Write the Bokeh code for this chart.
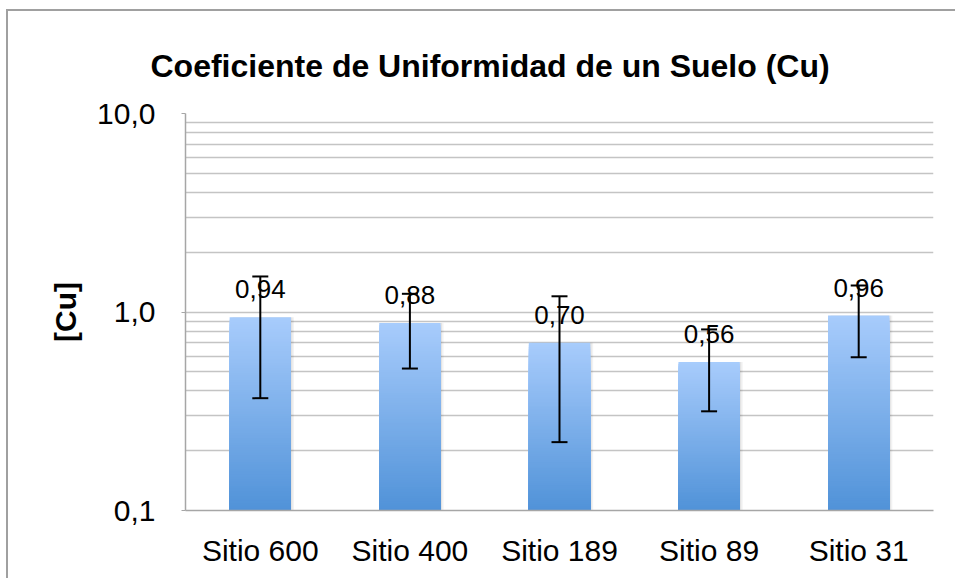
from bokeh.plotting import figure
from bokeh.models import (ColumnDataSource, FixedTicker, CustomJSTickFormatter, Whisker,
                          TeeHead, Range1d, FactorRange, Title)
from bokeh.transform import dodge
from bokeh.embed import file_html
from bokeh.resources import INLINE
from bokeh.core.properties import value

# ---- data ----
sitios = ["Sitio 600", "Sitio 400", "Sitio 189", "Sitio 89", "Sitio 31"]
cu = [0.94, 0.88, 0.70, 0.56, 0.96]
err_upper = [1.51, 1.235, 1.20, 0.817, 1.36]
err_lower = [0.368, 0.519, 0.221, 0.316, 0.592]
value_labels = ["0,94", "0,88", "0,70", "0,56", "0,96"]
y_ticks = [0.1, 1.0, 10.0]
y_tick_labels = ["0,1", "1,0", "10,0"]
y_minor_ticks = [0.2, 0.3, 0.4, 0.5, 0.6, 0.7, 0.8, 0.9, 2, 3, 4, 5, 6, 7, 8, 9]
title_text = "Coeficiente de Uniformidad de un Suelo (Cu)"
y_title = "[Cu]"

FONT = "Liberation Sans"
BASE = y_ticks[0]

p = figure(width=949, height=569, x_range=FactorRange(factors=sitios),
           y_range=Range1d(y_ticks[0], y_ticks[-1]), y_axis_type="log",
           output_backend="svg", toolbar_location=None,
           min_border_left=177, min_border_right=24, min_border_top=102,
           min_border_bottom=70)
p.styles = {"border-left": "2px solid #a0a0a0", "border-top": "2px solid #a0a0a0",
            "margin-left": "6px", "margin-top": "9px"}
p.outline_line_color = None
p.background_fill_color = "white"
p.border_fill_color = "white"

# title
t = Title(text=title_text, align="left", offset=-35, text_font=FONT,
          text_font_size="32px", text_font_style="bold", text_color="black",
          vertical_align="top", standoff=56)
p.add_layout(t, "above")

# soft shadow on the right of each bar
ssrc = ColumnDataSource(dict(x=sitios, top=cu, bottom=[BASE] * len(cu)))
p.vbar(x=dodge("x", 0.02, range=p.x_range), top="top", bottom="bottom", width=0.41,
       source=ssrc, fill_color="black", fill_alpha=0.05, line_color=None)
p.vbar(x=dodge("x", 0.01, range=p.x_range), top="top", bottom="bottom", width=0.41,
       source=ssrc, fill_color="black", fill_alpha=0.06, line_color=None)

# gradient bars: nested bars drawn tallest first, each covering the lower part
top_rgb = (168, 204, 252)
bot_rgb = (80, 146, 216)
N = 80
xs, bots, tops, cols = [], [], [], []
for k in range(N - 1, -1, -1):
    f = (k + 0.5) / N
    c = tuple(int(round(bot_rgb[j] + (top_rgb[j] - bot_rgb[j]) * f)) for j in range(3))
    for s, v in zip(sitios, cu):
        xs.append(s)
        bots.append(BASE)
        tops.append(BASE * (v / BASE) ** ((k + 1) / N))
        cols.append("#%02x%02x%02x" % c)
p.vbar(x=xs, bottom=bots, top=tops, width=0.41, fill_color=cols, line_color=None)

# error bars
esrc = ColumnDataSource(dict(x=sitios, upper=err_upper, lower=err_lower))
w = Whisker(source=esrc, base="x", upper="upper", lower="lower",
            line_color="black", line_width=2, level="annotation",
            upper_head=TeeHead(size=16, line_color="black", line_width=2),
            lower_head=TeeHead(size=16, line_color="black", line_width=2))
p.add_layout(w)

# value labels
lsrc = ColumnDataSource(dict(x=sitios, y=cu, t=value_labels))
p.text(x="x", y="y", text="t", source=lsrc, text_align="center",
       text_baseline="bottom", y_offset=-19, text_font=value(FONT),
       text_font_size="26px", text_color="black")

# axes
p.yaxis.ticker = FixedTicker(ticks=y_ticks, minor_ticks=y_minor_ticks)
p.yaxis.formatter = CustomJSTickFormatter(
    args=dict(tvals=y_ticks, tlabels=y_tick_labels),
    code="const i = tvals.findIndex(v => Math.abs(v - tick) < 1e-9 * v); return i >= 0 ? tlabels[i] : '';")
p.yaxis.axis_label = y_title
p.yaxis.axis_label_text_font = FONT
p.yaxis.axis_label_text_font_size = "30px"
p.yaxis.axis_label_text_font_style = "bold"
p.yaxis.axis_label_text_color = "black"
p.yaxis.axis_label_standoff = 12
p.yaxis.major_label_text_font = FONT
p.yaxis.major_label_text_font_size = "30px"
p.yaxis.major_label_text_color = "black"
p.yaxis.major_label_standoff = 26
p.yaxis.axis_line_color = "#a6a6a6"
p.yaxis.axis_line_width = 1.5
p.yaxis.major_tick_line_color = "#a6a6a6"
p.yaxis.major_tick_out = 4
p.yaxis.major_tick_in = 0
p.yaxis.minor_tick_line_color = None

p.xaxis.major_label_text_font = FONT
p.xaxis.major_label_text_font_size = "30px"
p.xaxis.major_label_text_color = "black"
p.xaxis.major_label_standoff = 17
p.xaxis.axis_line_color = "#a6a6a6"
p.xaxis.axis_line_width = 1.5
p.xaxis.major_tick_line_color = None
p.xaxis.minor_tick_line_color = None

p.xgrid.grid_line_color = None
p.ygrid.grid_line_color = "#c4c4c4"
p.ygrid.grid_line_width = 1.5
p.ygrid.minor_grid_line_color = "#c4c4c4"
p.ygrid.minor_grid_line_width = 1.5

open("out.html", "w").write(file_html(p, INLINE))
